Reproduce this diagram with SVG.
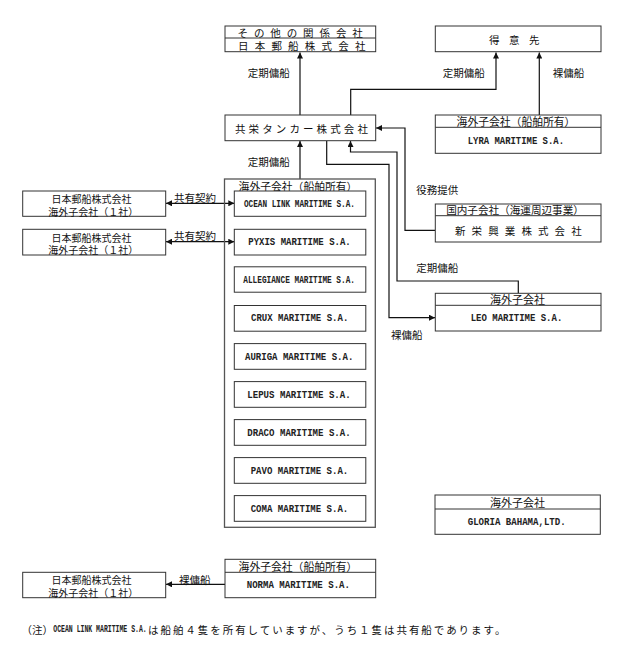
<svg xmlns="http://www.w3.org/2000/svg" width="623" height="649" viewBox="0 0 623 649">
<style>
.bx{fill:#fff;stroke:#333;stroke-width:1}
.ct{fill:none;stroke:#555;stroke-width:1.3}
.ln{fill:none;stroke:#111;stroke-width:1.2}
.jp{font-family:"Noto Sans CJK JP","Noto Sans",sans-serif;font-size:10.5px;fill:#111;dominant-baseline:central}
.en{font-family:"Liberation Mono",monospace;font-size:11px;font-weight:bold;fill:#222;dominant-baseline:central}
.mid{text-anchor:middle}
</style>
<defs>
<marker id="ah" viewBox="0 0 10 10" refX="10" refY="5" markerWidth="7" markerHeight="6" markerUnits="userSpaceOnUse" orient="auto-start-reverse">
<path d="M0,0 L10,5 L0,10 z" fill="#111"/>
</marker>
</defs>
<rect width="623" height="649" fill="#fff"/>

<g id="connectors">
<path class="ln" d="M300,115 V52.5" marker-end="url(#ah)"/>
<path class="ln" d="M350.7,115 V89.3 H496 V52.5" marker-end="url(#ah)"/>
<path class="ln" d="M539.3,115 V52.5" marker-end="url(#ah)"/>
<path class="ln" d="M300,179 V141" marker-end="url(#ah)"/>
<path class="ln" d="M435,230.3 H405 V128 H376" marker-end="url(#ah)"/>
<path class="ln" d="M518.3,293.3 V281 H397 V152 H350.5 V141" marker-end="url(#ah)"/>
<path class="ln" d="M326.7,141 V164.3 H389 V317.7 H435" marker-end="url(#ah)"/>
<path class="ln" d="M166,203.3 H234.3" marker-start="url(#ah)" marker-end="url(#ah)"/>
<path class="ln" d="M166,241.7 H234.3" marker-start="url(#ah)" marker-end="url(#ah)"/>
<path class="ln" d="M225,584.3 H166" marker-end="url(#ah)"/>
<text class="jp" x="247.7" y="72">定期傭船</text>
<text class="jp" x="442.7" y="72">定期傭船</text>
<text class="jp" x="552.7" y="72">裸傭船</text>
<text class="jp" x="247.7" y="161">定期傭船</text>
<text class="jp" x="416.3" y="189.3">役務提供</text>
<text class="jp" x="416.3" y="267.7">定期傭船</text>
<text class="jp" x="391" y="334.3">裸傭船</text>
<text class="jp" x="174" y="197">共有契約</text>
<text class="jp" x="174" y="235.5">共有契約</text>
<text class="jp" x="179" y="579">裸傭船</text>
</g>

<g id="nyk">
<rect class="bx" x="225" y="26" width="150.7" height="25.7"/>
<line class="bx" x1="225" y1="38" x2="375.7" y2="38"/>
<text class="jp" x="237.5" y="32" style="letter-spacing:5.9px">その他の関係会社</text>
<text class="jp" x="238" y="45" style="letter-spacing:6.2px">日本郵船株式会社</text>
</g>

<g id="tokuisaki">
<rect class="bx" x="435.3" y="26" width="165.7" height="25.7"/>
<text class="jp" x="489" y="39" style="letter-spacing:9.5px">得意先</text>
</g>

<g id="kyoei">
<rect class="bx" x="225" y="115" width="150.7" height="25.7"/>
<text class="jp" x="235" y="128" style="letter-spacing:3.1px">共栄タンカー株式会社</text>
</g>

<g id="lyra">
<rect class="bx" x="435.3" y="115" width="165.7" height="38.3"/>
<line class="bx" x1="435.3" y1="127.3" x2="601" y2="127.3"/>
<text class="jp mid" x="516" y="121" style="font-size:10.8px">海外子会社（船舶所有）</text>
<text class="en" x="467.7" y="140.7" textLength="96.3" lengthAdjust="spacingAndGlyphs">LYRA MARITIME S.A.</text>
</g>

<g id="shinei">
<rect class="bx" x="435.3" y="204" width="165.7" height="38"/>
<line class="bx" x1="435.3" y1="215.7" x2="601" y2="215.7"/>
<text class="jp mid" x="515" y="209.6" style="font-size:10.6px">国内子会社（海運周辺事業）</text>
<text class="jp" x="455" y="230" style="letter-spacing:6.1px">新栄興業株式会社</text>
</g>

<g id="leo">
<rect class="bx" x="435.3" y="293.3" width="165.7" height="37.7"/>
<line class="bx" x1="435.3" y1="305.3" x2="601" y2="305.3"/>
<text class="jp mid" x="517.5" y="299" style="font-size:11px">海外子会社</text>
<text class="en" x="470.7" y="318.2" textLength="91.6" lengthAdjust="spacingAndGlyphs">LEO MARITIME S.A.</text>
</g>

<g id="gloria">
<rect class="bx" x="435" y="495" width="165.3" height="39.3"/>
<line class="bx" x1="435" y1="509" x2="600.3" y2="509"/>
<text class="jp mid" x="517.5" y="501.8" style="font-size:11px">海外子会社</text>
<text class="en" x="467.7" y="521.7" textLength="98" lengthAdjust="spacingAndGlyphs">GLORIA BAHAMA,LTD.</text>
</g>

<g id="container">
<rect class="ct" x="224.5" y="179" width="150.8" height="348.3"/>
<text class="jp mid" x="298" y="185.5" style="font-size:10.8px">海外子会社（船舶所有）</text>
</g>

<g id="ocean">
<rect class="bx" x="234.3" y="191" width="131.5" height="25.3"/>
<text class="en" x="244" y="203.6" textLength="111" lengthAdjust="spacingAndGlyphs">OCEAN LINK MARITIME S.A.</text>
</g>
<g id="pyxis">
<rect class="bx" x="234.3" y="229.3" width="131.5" height="25.7"/>
<text class="en" x="248.3" y="242.2" textLength="102.4" lengthAdjust="spacingAndGlyphs">PYXIS MARITIME S.A.</text>
</g>
<g id="allegiance">
<rect class="bx" x="234.3" y="266.8" width="131.5" height="25.4"/>
<text class="en" x="243.3" y="279.5" textLength="111.7" lengthAdjust="spacingAndGlyphs">ALLEGIANCE MARITIME S.A.</text>
</g>
<g id="crux">
<rect class="bx" x="234.3" y="305.5" width="131.5" height="25.7"/>
<text class="en" x="251" y="318.4" textLength="97.3" lengthAdjust="spacingAndGlyphs">CRUX MARITIME S.A.</text>
</g>
<g id="auriga">
<rect class="bx" x="234.3" y="343.6" width="131.5" height="25.7"/>
<text class="en" x="245" y="356.5" textLength="108.3" lengthAdjust="spacingAndGlyphs">AURIGA MARITIME S.A.</text>
</g>
<g id="lepus">
<rect class="bx" x="234.3" y="381.6" width="131.5" height="25.7"/>
<text class="en" x="247.3" y="394.5" textLength="103.4" lengthAdjust="spacingAndGlyphs">LEPUS MARITIME S.A.</text>
</g>
<g id="draco">
<rect class="bx" x="234.3" y="419.6" width="131.5" height="25.7"/>
<text class="en" x="247.3" y="432.5" textLength="103.4" lengthAdjust="spacingAndGlyphs">DRACO MARITIME S.A.</text>
</g>
<g id="pavo">
<rect class="bx" x="234.3" y="457.6" width="131.5" height="25.7"/>
<text class="en" x="250.7" y="470.5" textLength="97.6" lengthAdjust="spacingAndGlyphs">PAVO MARITIME S.A.</text>
</g>
<g id="coma">
<rect class="bx" x="234.3" y="495.6" width="131.5" height="25.7"/>
<text class="en" x="250.7" y="508.5" textLength="97.6" lengthAdjust="spacingAndGlyphs">COMA MARITIME S.A.</text>
</g>

<g id="nyk-sub1">
<rect class="bx" x="22.7" y="191" width="143" height="25.3"/>
<text class="jp mid" style="font-size:10px"><tspan x="91.5" y="198.2">日本郵船株式会社</tspan><tspan x="93.3" y="210.8">海外子会社（１社）</tspan></text>
</g>
<g id="nyk-sub2">
<rect class="bx" x="22.7" y="229.3" width="143" height="25.7"/>
<text class="jp mid" style="font-size:10px"><tspan x="91.5" y="236.5">日本郵船株式会社</tspan><tspan x="93.3" y="249.1">海外子会社（１社）</tspan></text>
</g>

<g id="norma">
<rect class="bx" x="225" y="559.3" width="150.7" height="38.4"/>
<line class="bx" x1="225" y1="572.3" x2="375.7" y2="572.3"/>
<text class="jp mid" x="298" y="565.6" style="font-size:10.8px">海外子会社（船舶所有）</text>
<text class="en" x="246.7" y="584.6" textLength="103.3" lengthAdjust="spacingAndGlyphs">NORMA MARITIME S.A.</text>
</g>
<g id="nyk-sub3">
<rect class="bx" x="22.7" y="572.3" width="143" height="25.4"/>
<text class="jp mid" style="font-size:10px"><tspan x="91.5" y="579.3">日本郵船株式会社</tspan><tspan x="93.3" y="591.9">海外子会社（１社）</tspan></text>
</g>

<g id="note">
<text class="jp" y="629"><tspan x="21.5">（注）</tspan><tspan x="53.3" textLength="93.4" lengthAdjust="spacingAndGlyphs" style="font-family:'Liberation Mono',monospace;font-size:11px;font-weight:bold;fill:#222">OCEAN LINK MARITIME S.A.</tspan><tspan x="148" style="letter-spacing:1.95px">は船舶４隻を所有していますが、うち１隻は共有船であります。</tspan></text>
</g>
</svg>
